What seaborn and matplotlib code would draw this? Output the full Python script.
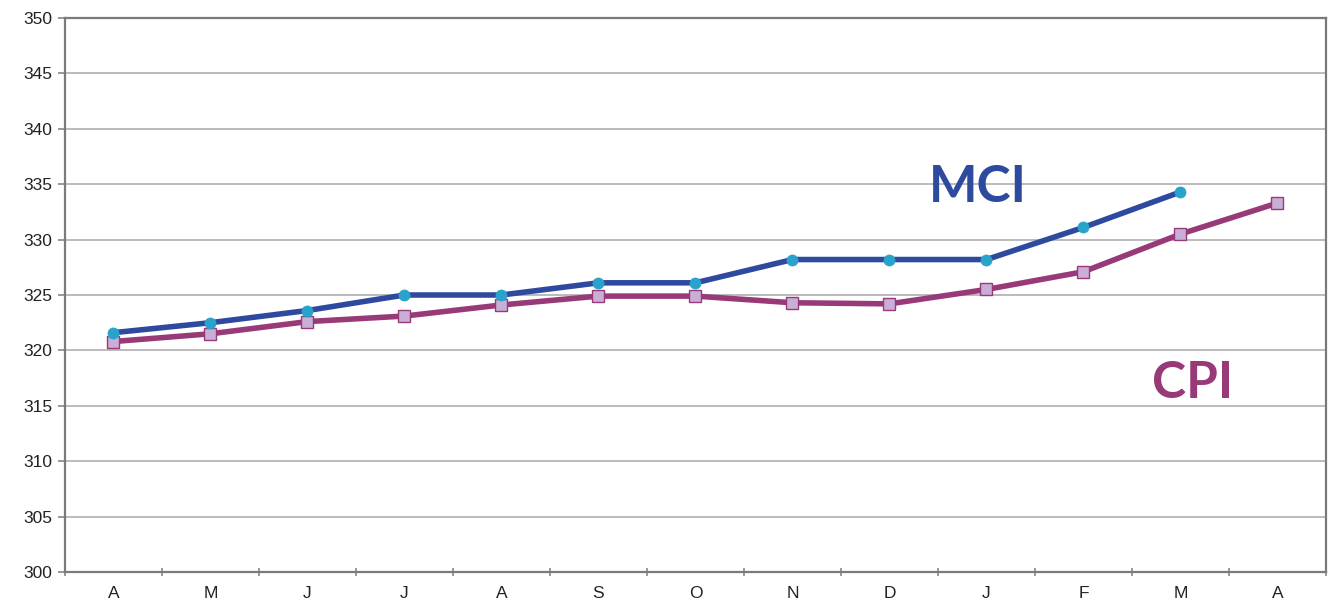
import numpy as np
import pandas as pd
import matplotlib
matplotlib.use("Agg")
import matplotlib.pyplot as plt
import seaborn as sns

# Monthly index values
months = ["A", "M", "J", "J", "A", "S", "O", "N", "D", "J", "F", "M", "A"]
mci = [321.6, 322.5, 323.6, 325.0, 325.0, 326.1, 326.1, 328.2, 328.2, 328.2, 331.1, 334.3, np.nan]
cpi = [320.8, 321.5, 322.6, 323.1, 324.1, 324.9, 324.9, 324.3, 324.2, 325.5, 327.1, 330.5, 333.3]
y_ticks = [300, 305, 310, 315, 320, 325, 330, 335, 340, 345, 350]

sns.set_theme(style="white")
plt.rcParams["font.family"] = ["Liberation Sans", "DejaVu Sans"]

fig = plt.figure(figsize=(13.29, 6.07), dpi=100)
ax = fig.add_axes([0.0489, 0.0577, 0.9488, 0.9126])

pos = np.arange(len(months))
df_mci = pd.DataFrame({"pos": pos, "value": mci})
df_cpi = pd.DataFrame({"pos": pos, "value": cpi})

mci_line = "#2E4A9E"
mci_mark = "#2AA3CC"
cpi_line = "#993A78"
cpi_mark = "#C9AED8"

sns.lineplot(data=df_cpi.dropna(), x="pos", y="value", ax=ax, color=cpi_line,
             linewidth=4.0, marker="s", markersize=8.5, markerfacecolor=cpi_mark,
             markeredgecolor=cpi_line, markeredgewidth=1.0, zorder=3)
sns.lineplot(data=df_mci.dropna(), x="pos", y="value", ax=ax, color=mci_line,
             linewidth=4.0, marker="o", markersize=8, markerfacecolor=mci_mark,
             markeredgecolor=mci_mark, markeredgewidth=0.5, zorder=4)

ax.set_xlim(-0.5, len(months) - 0.5)
ax.set_ylim(300, 350)
ax.set_yticks(y_ticks)
ax.set_yticklabels([str(v) for v in y_ticks], fontsize=12.5, color="#222222")
ax.set_xticks(pos)
ax.set_xticklabels(months, fontsize=12.5, color="#222222")
ax.set_xticks(np.arange(-0.5, len(months), 1.0), minor=True)
ax.tick_params(axis="x", which="major", length=0, pad=10)
ax.tick_params(axis="x", which="minor", length=6, direction="inout",
               color="#888888", width=1.2, bottom=True)
ax.tick_params(axis="y", which="major", length=5, direction="out",
               color="#888888", width=1.2, left=True, pad=4)
ax.set_xlabel("")
ax.set_ylabel("")

ax.grid(axis="y", color="#A8A8A8", linewidth=1.1)
ax.set_axisbelow(True)
for side in ["left", "bottom", "top", "right"]:
    ax.spines[side].set_visible(True)
    ax.spines[side].set_color("#7A7A7A")
    ax.spines[side].set_linewidth(1.6)

ax.text(8.91, 334.7, "MCI", color=mci_line, fontsize=37, fontweight="bold",
        family=["Lato", "DejaVu Sans"], ha="center", va="center")
ax.text(11.12, 317.0, "CPI", color=cpi_line, fontsize=37, fontweight="bold",
        family=["Lato", "DejaVu Sans"], ha="center", va="center")

fig.savefig("out.png", dpi=100, facecolor="white")
